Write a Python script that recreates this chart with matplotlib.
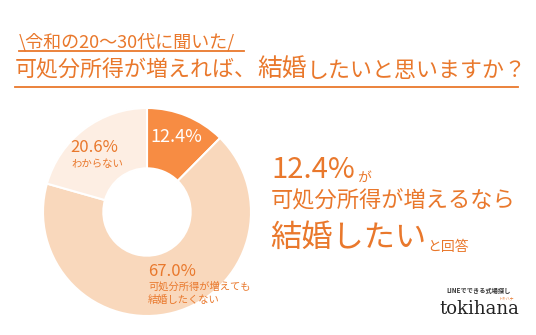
import matplotlib.pyplot as plt

plt.rcParams['font.family'] = ['Noto Sans CJK JP', 'DejaVu Sans']

# 回答の割合（時計回り、12時から）
labels = ['結婚したい', '増えても結婚したくない', 'わからない']
shares = [12.4, 67.0, 20.6]
slice_colors = ['#F78C43', '#F9D8BC', '#FDEEE3']

ORANGE = '#E9782C'

fig = plt.figure(figsize=(5.36, 3.35), dpi=100)

# ドーナツグラフ
cx, cy, r = 147, 212, 104
ax = fig.add_axes([(cx - r) / 536, (335 - cy - r) / 335, 2 * r / 536, 2 * r / 335])
ax.pie(shares, colors=slice_colors, startangle=90, counterclock=False,
       radius=1, wedgeprops={'width': 0.58, 'edgecolor': 'white', 'linewidth': 1.5})
ax.set_xlim(-1, 1)
ax.set_ylim(-1, 1)
ax.set_aspect('equal')

# 文字用の座標系（ピクセル単位、上が0）をグラフの上に重ねる
bg = fig.add_axes([0, 0, 1, 1])
bg.set_xlim(0, 536)
bg.set_ylim(335, 0)
bg.patch.set_visible(False)
bg.axis('off')

# 小見出し
bg.text(19, 42, '\\令和の20〜30代に聞いた/', color=ORANGE, fontsize=13,
        va='center', ha='left')
bg.plot([19, 244], [51, 51], color=ORANGE, lw=1.3)

# タイトル（「結婚」だけ少し大きく）
t1 = bg.text(15, 82, '可処分所得が増えれば、', color=ORANGE, fontsize=15.8,
             va='bottom', ha='left')
t2 = bg.annotate('結婚', xy=(1, 0), xycoords=t1, color=ORANGE, fontsize=17.8,
                 va='bottom', ha='left')
bg.annotate('したいと思いますか？', xy=(1, 0), xycoords=t2, color=ORANGE,
            fontsize=15.8, va='bottom', ha='left')
bg.plot([15, 518], [87, 87], color=ORANGE, lw=1.3)

# グラフ内ラベル
bg.text(176, 137, f'{shares[0]}%', color='white', fontsize=13, ha='center', va='center')
bg.text(70, 148, f'{shares[2]}%', color=ORANGE, fontsize=12, ha='left', va='center')
bg.text(71, 164, 'わからない', color=ORANGE, fontsize=7.5, ha='left', va='center')
bg.text(148, 272, f'{shares[1]}%', color=ORANGE, fontsize=12, ha='left', va='center')
bg.text(148, 287, '可処分所得が増えても', color=ORANGE, fontsize=7.4, ha='left', va='center')
bg.text(148, 300, '結婚したくない', color=ORANGE, fontsize=7.4, ha='left', va='center')

# 右側のまとめ
s1 = bg.text(271, 178, f'{shares[0]}%', color=ORANGE, fontsize=21, ha='left', va='baseline')
bg.annotate('が', xy=(1, 0), xycoords=s1, xytext=(2, 0), textcoords='offset points',
            color=ORANGE, fontsize=10, ha='left', va='bottom')
bg.text(271, 207, '可処分所得が増えるなら', color=ORANGE, fontsize=16,
        ha='left', va='baseline')
s3 = bg.text(270, 247, '結婚したい', color=ORANGE, fontsize=22.5, ha='left', va='baseline')
bg.annotate('と回答', xy=(1, 0), xycoords=s3, xytext=(1, 0), textcoords='offset points',
            color=ORANGE, fontsize=10, ha='left', va='bottom')

# ロゴ
bg.text(479, 290, 'LINEでできる式場探し', color='#333333', fontsize=4.5,
        fontweight='bold', ha='center', va='center')
bg.text(479, 309, 'tokihana', color='#222222', fontsize=13, family='DejaVu Serif',
        ha='center', va='center')
bg.text(506, 298, 'トキハナ', color=ORANGE, fontsize=2.8, ha='center', va='center')

fig.savefig('out.png', dpi=100)
